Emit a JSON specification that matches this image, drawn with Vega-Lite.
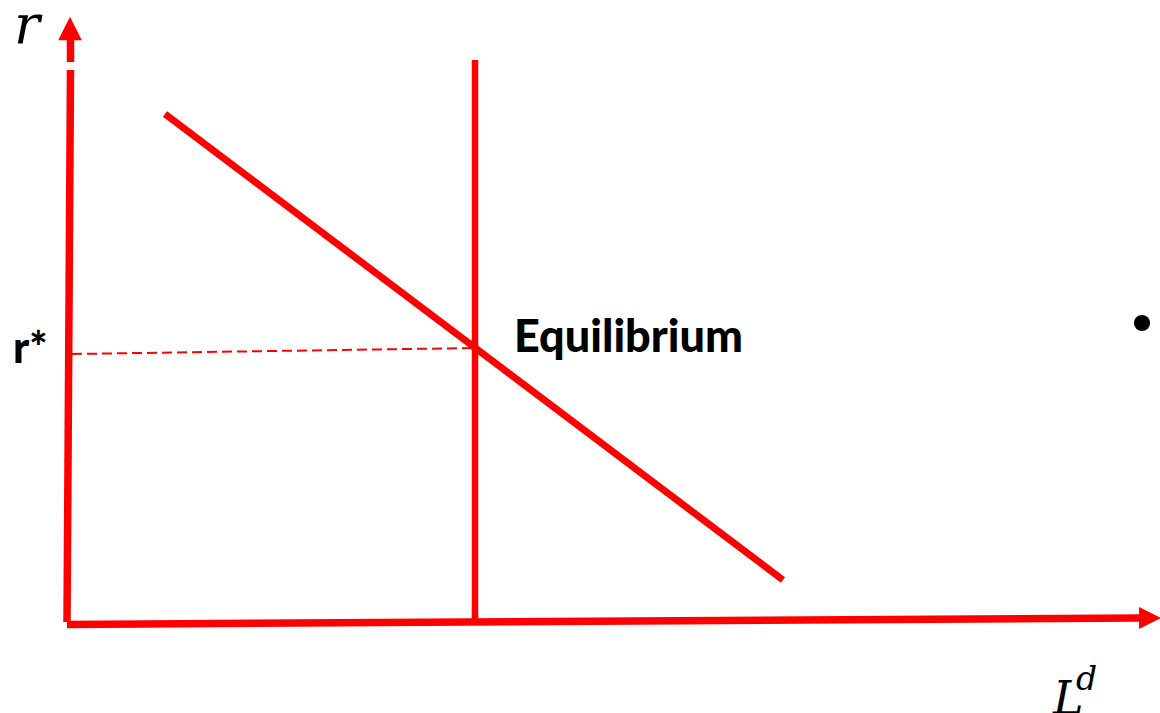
{
  "$schema": "https://vega.github.io/schema/vega-lite/v6.json",
  "width": 1160,
  "height": 713,
  "autosize": {"type": "none"},
  "padding": 0,
  "background": "white",
  "config": {"view": {"stroke": null}},
  "datasets": {
    "segments": [
      {"part": "axis", "x": 2.5, "y": 584, "x2": 2.5, "y2": 562},
      {"part": "axis", "x": 2.5, "y": 554, "x2": -1, "y2": 2},
      {"part": "axis", "x": -1, "y": -0.5, "x2": 1073, "y2": 6},
      {"part": "demand", "x": 97, "y": 510, "x2": 715, "y2": 44},
      {"part": "supply", "x": 407, "y": 564, "x2": 407, "y2": 4},
      {"part": "rstar", "x": 4, "y": 270, "x2": 407, "y2": 276}
    ],
    "heads": [
      {"dir": "up", "x": 2, "y": 595.5},
      {"dir": "right", "x": 1082, "y": 6}
    ],
    "labels": [
      {"kind": "axisname", "label": "r", "x": -54, "y": 581},
      {"kind": "axisname2", "label": "L", "x": 985, "y": -90},
      {"kind": "sup", "label": "d", "x": 1008, "y": -66},
      {"kind": "tick", "label": "r*", "x": -55, "y": 261},
      {"kind": "eq", "label": "Equilibrium", "x": 446, "y": 272}
    ],
    "dots": [
      {"x": 1074, "y": 301}
    ]
  },
  "layer": [
    {
      "data": {"name": "segments"},
      "transform": [{"filter": "datum.part === 'rstar'"}],
      "mark": {"type": "rule", "color": "#FF0000", "strokeWidth": 2, "strokeDash": [10, 5]},
      "encoding": {
        "x": {"field": "x", "type": "quantitative", "scale": {"domain": [-68, 1092], "nice": false, "zero": false}, "axis": null},
        "y": {"field": "y", "type": "quantitative", "scale": {"domain": [-89, 624], "nice": false, "zero": false}, "axis": null},
        "x2": {"field": "x2"},
        "y2": {"field": "y2"}
      }
    },
    {
      "data": {"name": "segments"},
      "transform": [{"filter": "datum.part === 'axis'"}],
      "mark": {"type": "rule", "color": "#FF0000", "strokeWidth": 7.5},
      "encoding": {
        "x": {"field": "x", "type": "quantitative", "scale": {"domain": [-68, 1092], "nice": false, "zero": false}, "axis": null},
        "y": {"field": "y", "type": "quantitative", "scale": {"domain": [-89, 624], "nice": false, "zero": false}, "axis": null},
        "x2": {"field": "x2"},
        "y2": {"field": "y2"}
      }
    },
    {
      "data": {"name": "segments"},
      "transform": [{"filter": "datum.part === 'demand'"}],
      "mark": {"type": "rule", "color": "#FF0000", "strokeWidth": 7},
      "encoding": {
        "x": {"field": "x", "type": "quantitative", "scale": {"domain": [-68, 1092], "nice": false, "zero": false}, "axis": null},
        "y": {"field": "y", "type": "quantitative", "scale": {"domain": [-89, 624], "nice": false, "zero": false}, "axis": null},
        "x2": {"field": "x2"},
        "y2": {"field": "y2"}
      }
    },
    {
      "data": {"name": "segments"},
      "transform": [{"filter": "datum.part === 'supply'"}],
      "mark": {"type": "rule", "color": "#FF0000", "strokeWidth": 6.5},
      "encoding": {
        "x": {"field": "x", "type": "quantitative", "scale": {"domain": [-68, 1092], "nice": false, "zero": false}, "axis": null},
        "y": {"field": "y", "type": "quantitative", "scale": {"domain": [-89, 624], "nice": false, "zero": false}, "axis": null},
        "x2": {"field": "x2"},
        "y2": {"field": "y2"}
      }
    },
    {
      "data": {"name": "heads"},
      "transform": [{"filter": "datum.dir === 'up'"}],
      "mark": {"type": "point", "shape": "M-1,1L0,-1L1,1Z", "size": 560, "filled": true, "color": "#FF0000", "opacity": 1, "strokeWidth": 0},
      "encoding": {
        "x": {"field": "x", "type": "quantitative", "scale": {"domain": [-68, 1092], "nice": false, "zero": false}, "axis": null},
        "y": {"field": "y", "type": "quantitative", "scale": {"domain": [-89, 624], "nice": false, "zero": false}, "axis": null}
      }
    },
    {
      "data": {"name": "heads"},
      "transform": [{"filter": "datum.dir === 'right'"}],
      "mark": {"type": "point", "shape": "M-1,-1L1,0L-1,1Z", "size": 480, "filled": true, "color": "#FF0000", "opacity": 1, "strokeWidth": 0},
      "encoding": {
        "x": {"field": "x", "type": "quantitative", "scale": {"domain": [-68, 1092], "nice": false, "zero": false}, "axis": null},
        "y": {"field": "y", "type": "quantitative", "scale": {"domain": [-89, 624], "nice": false, "zero": false}, "axis": null}
      }
    },
    {
      "data": {"name": "dots"},
      "mark": {"type": "point", "shape": "circle", "size": 260, "filled": true, "color": "#000000", "opacity": 1, "strokeWidth": 0},
      "encoding": {
        "x": {"field": "x", "type": "quantitative", "scale": {"domain": [-68, 1092], "nice": false, "zero": false}, "axis": null},
        "y": {"field": "y", "type": "quantitative", "scale": {"domain": [-89, 624], "nice": false, "zero": false}, "axis": null}
      }
    },
    {
      "data": {"name": "labels"},
      "transform": [{"filter": "datum.kind === 'axisname'"}],
      "mark": {"type": "text", "font": "DejaVu Serif", "fontStyle": "italic", "fontSize": 54, "align": "left", "baseline": "alphabetic", "color": "#000000"},
      "encoding": {
        "x": {"field": "x", "type": "quantitative", "scale": {"domain": [-68, 1092], "nice": false, "zero": false}, "axis": null},
        "y": {"field": "y", "type": "quantitative", "scale": {"domain": [-89, 624], "nice": false, "zero": false}, "axis": null},
        "text": {"field": "label"}
      }
    },
    {
      "data": {"name": "labels"},
      "transform": [{"filter": "datum.kind === 'axisname2'"}],
      "mark": {"type": "text", "font": "DejaVu Serif", "fontStyle": "italic", "fontSize": 46, "align": "left", "baseline": "alphabetic", "color": "#000000"},
      "encoding": {
        "x": {"field": "x", "type": "quantitative", "scale": {"domain": [-68, 1092], "nice": false, "zero": false}, "axis": null},
        "y": {"field": "y", "type": "quantitative", "scale": {"domain": [-89, 624], "nice": false, "zero": false}, "axis": null},
        "text": {"field": "label"}
      }
    },
    {
      "data": {"name": "labels"},
      "transform": [{"filter": "datum.kind === 'sup'"}],
      "mark": {"type": "text", "font": "DejaVu Serif", "fontStyle": "italic", "fontSize": 33, "align": "left", "baseline": "alphabetic", "color": "#000000"},
      "encoding": {
        "x": {"field": "x", "type": "quantitative", "scale": {"domain": [-68, 1092], "nice": false, "zero": false}, "axis": null},
        "y": {"field": "y", "type": "quantitative", "scale": {"domain": [-89, 624], "nice": false, "zero": false}, "axis": null},
        "text": {"field": "label"}
      }
    },
    {
      "data": {"name": "labels"},
      "transform": [{"filter": "datum.kind === 'tick'"}],
      "mark": {"type": "text", "font": "Lato", "fontWeight": 900, "fontSize": 43, "align": "left", "baseline": "alphabetic", "color": "#000000"},
      "encoding": {
        "x": {"field": "x", "type": "quantitative", "scale": {"domain": [-68, 1092], "nice": false, "zero": false}, "axis": null},
        "y": {"field": "y", "type": "quantitative", "scale": {"domain": [-89, 624], "nice": false, "zero": false}, "axis": null},
        "text": {"field": "label"}
      }
    },
    {
      "data": {"name": "labels"},
      "transform": [{"filter": "datum.kind === 'eq'"}],
      "mark": {"type": "text", "font": "Lato", "fontWeight": 900, "fontSize": 45, "align": "left", "baseline": "alphabetic", "color": "#000000"},
      "encoding": {
        "x": {"field": "x", "type": "quantitative", "scale": {"domain": [-68, 1092], "nice": false, "zero": false}, "axis": null},
        "y": {"field": "y", "type": "quantitative", "scale": {"domain": [-89, 624], "nice": false, "zero": false}, "axis": null},
        "text": {"field": "label"}
      }
    }
  ]
}
